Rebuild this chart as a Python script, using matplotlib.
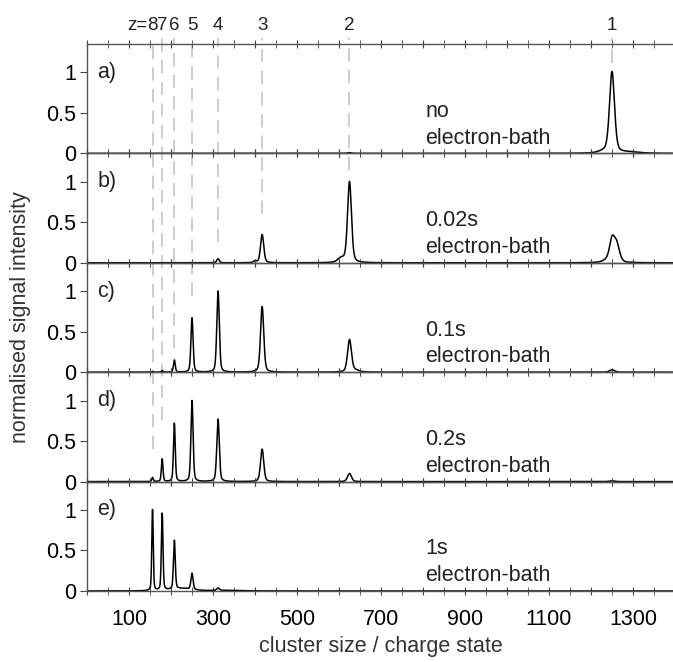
import matplotlib
matplotlib.use("Agg")
import matplotlib.pyplot as plt
import matplotlib.transforms as mtransforms
from matplotlib.lines import Line2D
import numpy as np

plt.rcParams["font.family"] = ["Liberation Sans", "DejaVu Sans"]

# charge states and where their peaks sit (cluster size / charge)
CHARGES = [1, 2, 3, 4, 5, 6, 7, 8]
CENTERS = [1250, 625, 417, 312, 250, 208, 179, 156]
FWHM = [14, 11, 9, 7, 6, 5, 4.5, 4]

PANEL_TAGS = ["a)", "b)", "c)", "d)", "e)"]
PANEL_TIMES = ["no", "0.02s", "0.1s", "0.2s", "1s"]

# peak heights per panel, ordered like CHARGES
HEIGHTS_A = [1.00, 0.01, 0.00, 0.00, 0.00, 0.00, 0.00, 0.00]
HEIGHTS_B = [0.25, 1.00, 0.35, 0.05, 0.00, 0.00, 0.00, 0.00]
HEIGHTS_C = [0.03, 0.40, 0.81, 1.00, 0.67, 0.15, 0.02, 0.01]
HEIGHTS_D = [0.01, 0.10, 0.40, 0.77, 1.00, 0.72, 0.28, 0.05]
HEIGHTS_E = [0.00, 0.00, 0.00, 0.03, 0.20, 0.60, 0.95, 1.00]
HEIGHTS = [HEIGHTS_A, HEIGHTS_B, HEIGHTS_C, HEIGHTS_D, HEIGHTS_E]

# extra shoulders / baseline humps: (center, height, fwhm)
SHOULDERS_A = [(1230, 0.02, 30), (1290, 0.015, 60)]
SHOULDERS_B = [(1261, 0.22, 16), (1240, 0.03, 25), (605, 0.05, 18), (400, 0.02, 8)]
SHOULDERS_C = [(640, 0.02, 20)]
SHOULDERS_D = []
SHOULDERS_E = [(225, 0.03, 60), (330, 0.008, 80)]
SHOULDERS = [SHOULDERS_A, SHOULDERS_B, SHOULDERS_C, SHOULDERS_D, SHOULDERS_E]

# dashed guide lines: panel index and height where each one stops
LINE_END_PANEL = [0, 1, 1, 1, 2, 2, 3, 3]
LINE_END_Y = [1.12, 1.15, 0.6, 0.26, 0.94, 0.3, 0.76, 0.4]

XMAX = 1400
YMAX = 1.35
FS = 15.5


def peak(x, center, height, fwhm):
    """Pseudo-Voigt line shape."""
    s = fwhm / 2.355
    g = np.exp(-0.5 * ((x - center) / s) ** 2)
    lor = 1.0 / (1.0 + ((x - center) / (fwhm / 2)) ** 2)
    return height * (0.65 * g + 0.35 * lor)


x = np.linspace(0, XMAX, 5601)

fig = plt.figure(figsize=(6.73, 6.62), dpi=100)
left, right = 87 / 673, 675 / 673
bottom, top = 1 - 591 / 662, 1 - 44 / 662
ph = (top - bottom) / 5
axes = []
for i in range(5):
    ax = fig.add_axes([left, top - (i + 1) * ph, right - left, ph])
    ax.set_facecolor("none")
    axes.append(ax)

for i, ax in enumerate(axes):
    y = np.zeros_like(x)
    for c, h, w in zip(CENTERS, HEIGHTS[i], FWHM):
        if h > 0:
            y += peak(x, c, h, w)
    for c, h, w in SHOULDERS[i]:
        y += peak(x, c, h, w)
    ax.plot(x, y, color="black", lw=1.1)
    ax.set_xlim(0, XMAX)
    ax.set_ylim(0, YMAX)
    ax.set_yticks([0, 0.5, 1])
    ax.set_yticklabels(["0", "0.5", "1"])
    ax.set_xticks(np.arange(0, XMAX + 1, 100))
    ax.set_xticks(np.arange(50, XMAX, 100), minor=True)
    ax.tick_params(axis="y", labelsize=FS, pad=3, color="#444444", length=5)
    ax.tick_params(axis="y", right=True, direction="in")
    ax.tick_params(axis="y", left=True, direction="out")
    ax.tick_params(axis="x", which="both", bottom=True, top=True, direction="inout",
                   length=6, labelsize=FS, color="#444444", pad=10)
    for sp in ax.spines.values():
        sp.set_color("#555555")
        sp.set_linewidth(1.0)
    if i < 4:
        ax.set_xticklabels([])
    else:
        ax.set_xticklabels([str(v) if v % 200 == 100 else "" for v in range(0, XMAX + 1, 100)])
        ax.set_xlabel("cluster size / charge state", fontsize=FS, color="#333333", labelpad=4)
    ax.text(0.018, 1.0, PANEL_TAGS[i], transform=ax.get_yaxis_transform(),
            fontsize=FS, va="center", ha="left", color="#222222")
    ax.text(805, 0.52, PANEL_TIMES[i], fontsize=FS, va="center", ha="left", color="#222222")
    ax.text(805, 0.19, "electron-bath", fontsize=FS, va="center", ha="left", color="#222222")

fig.text(0.03, (top + bottom) / 2, "normalised signal intensity", rotation=90,
         fontsize=FS, va="center", ha="center", color="#333333")

# dashed guide lines, one continuous line per charge state
top_fig = top + 6 / 662
for c, p, ye in zip(CENTERS, LINE_END_PANEL, LINE_END_Y):
    xf, yf = fig.transFigure.inverted().transform(axes[p].transData.transform((c, ye)))
    ln = Line2D([xf, xf], [yf, top_fig], transform=fig.transFigure, color="#c4c4c4",
                lw=1.2, linestyle=(0, (8, 5)), zorder=-1)
    fig.add_artist(ln)

# charge labels above the top panel
lab_tr = mtransforms.blended_transform_factory(axes[0].transData, fig.transFigure)
for z, c in zip(CHARGES, CENTERS):
    axes[0].text(c, 1 - 25 / 662, str(z), transform=lab_tr, fontsize=13.5,
                 ha="center", va="center", color="#222222", clip_on=False)
axes[0].text(143, 1 - 25 / 662, "z=", transform=lab_tr, fontsize=13.5,
             ha="right", va="center", color="#222222", clip_on=False)

fig.savefig("out.png", dpi=100)
